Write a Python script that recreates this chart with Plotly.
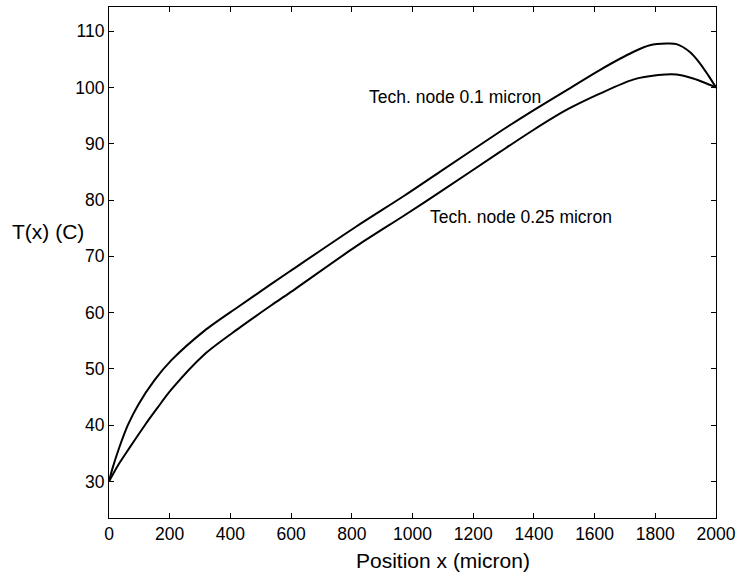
import plotly.graph_objects as go

# Position x (micron) and temperature T(x) (C)
x_node01 = [0, 12, 35, 62, 96, 150, 205, 315, 425, 535, 595, 815, 974, 1090, 1295,
            1397, 1507, 1617, 1727, 1782, 1837, 1870, 1914, 1947, 1974, 2000]
t_node01 = [30.0, 32.4, 36.2, 40.0, 43.6, 48.0, 51.5, 56.8, 61.0, 65.1, 67.3, 75.3,
            80.8, 85.0, 92.4, 95.9, 99.5, 103.1, 106.3, 107.5, 107.8, 107.7, 106.3,
            104.3, 102.2, 100.0]

x_node025 = [0, 29, 68, 117, 160, 205, 315, 425, 535, 595, 815, 974, 1090, 1287,
             1397, 1507, 1617, 1727, 1810, 1870, 1925, 1969, 2000]
t_node025 = [30.0, 32.8, 36.0, 39.9, 43.1, 46.3, 52.6, 57.1, 61.3, 63.5, 71.8, 77.3,
             81.4, 88.5, 92.4, 96.0, 98.9, 101.4, 102.2, 102.3, 101.6, 100.7, 100.0]

x_ticks = [0, 200, 400, 600, 800, 1000, 1200, 1400, 1600, 1800, 2000]
y_ticks = [30, 40, 50, 60, 70, 80, 90, 100, 110]

label_01 = "Tech. node 0.1 micron"
label_025 = "Tech. node 0.25 micron"

FONT = "Liberation Sans, Arial, Helvetica, sans-serif"

fig = go.Figure()
for xs, ts, name in [(x_node01, t_node01, label_01), (x_node025, t_node025, label_025)]:
    fig.add_trace(go.Scatter(x=xs, y=ts, mode="lines", name=name,
                             line=dict(color="black", width=2, shape="spline", smoothing=0.8)))

axis_common = dict(showline=True, linecolor="black", linewidth=1, mirror="ticks",
                   ticks="inside", ticklen=5, tickcolor="black", showgrid=False,
                   zeroline=False, tickfont=dict(family=FONT, size=17.5, color="black"))

fig.update_layout(
    width=742, height=577,
    margin=dict(l=109, r=26, t=7, b=59),
    plot_bgcolor="white", paper_bgcolor="white",
    showlegend=False,
    font=dict(family=FONT, size=17.5, color="black"),
    xaxis=dict(range=[0, 2000], tickvals=x_ticks, **axis_common),
    yaxis=dict(range=[23.5, 114.3], tickvals=y_ticks, **axis_common),
    annotations=[
        dict(text=label_01, x=1141, y=98.3, xref="x", yref="y", showarrow=False,
             font=dict(family=FONT, size=17.5, color="black")),
        dict(text=label_025, x=1357, y=77.0, xref="x", yref="y", showarrow=False,
             font=dict(family=FONT, size=17.5, color="black")),
        dict(text="T(x) (C)", x=-0.0997, y=0.5603, xref="paper", yref="paper",
             showarrow=False, xanchor="center", yanchor="middle",
             font=dict(family=FONT, size=21, color="black")),
        dict(text="Position x (micron)", x=0.550, y=-0.0841, xref="paper", yref="paper",
             showarrow=False, xanchor="center", yanchor="middle",
             font=dict(family=FONT, size=21, color="black")),
    ],
)

fig.write_html("out.html")
